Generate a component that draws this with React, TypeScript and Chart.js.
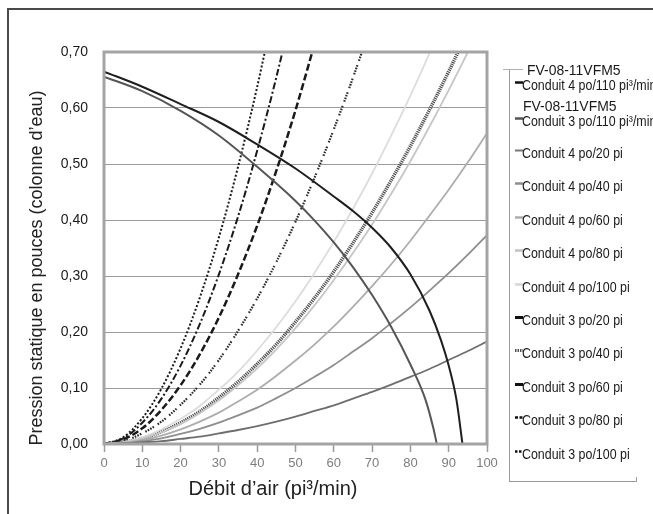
import React, { useEffect, useRef } from 'react';
import { Chart, registerables } from 'chart.js';

Chart.register(...registerables);

// ---- Tick labels ----
const X_TICKS = ['0', '10', '20', '30', '40', '50', '60', '70', '80', '90', '100'];
const Y_TICKS = ['0,00', '0,10', '0,20', '0,30', '0,40', '0,50', '0,60', '0,70'];

// ---- Fan curves (débit, pression) ----
const FAN4_X = [0, 10, 20, 30, 40, 50, 60, 65, 70, 75, 80, 85, 88, 90, 92, 93.6];
const FAN4_Y = [0.665, 0.638, 0.607, 0.575, 0.535, 0.492, 0.442, 0.416, 0.386, 0.35, 0.303, 0.238, 0.185, 0.14, 0.08, 0];
const FAN3_X = [0, 10, 20, 30, 40, 50, 55, 60, 65, 70, 75, 80, 84, 86, 86.9];
const FAN3_Y = [0.656, 0.63, 0.595, 0.551, 0.495, 0.434, 0.399, 0.36, 0.316, 0.266, 0.209, 0.142, 0.078, 0.028, 0];

// ---- System (duct) curves ----
const SYS_X = [0, 5, 10, 15, 20, 25, 30, 35, 40, 45, 50, 55, 60, 65, 70, 75, 80, 85, 90, 95, 100];
const D4_20 = [0, 0.001, 0.003, 0.005, 0.009, 0.013, 0.019, 0.025, 0.032, 0.04, 0.049, 0.059, 0.069, 0.081, 0.093, 0.106, 0.12, 0.134, 0.15, 0.166, 0.183];
const D4_40 = [0, 0.001, 0.005, 0.01, 0.018, 0.027, 0.038, 0.051, 0.065, 0.082, 0.1, 0.12, 0.141, 0.165, 0.189, 0.216, 0.244, 0.274, 0.305, 0.338, 0.373];
const D4_60 = [0, 0.002, 0.007, 0.015, 0.026, 0.04, 0.056, 0.076, 0.097, 0.122, 0.149, 0.178, 0.21, 0.245, 0.282, 0.321, 0.363, 0.408, 0.454, 0.503, 0.555];
const D4_80 = [0, 0.003, 0.01, 0.021, 0.036, 0.055, 0.078, 0.105, 0.135, 0.169, 0.207, 0.248, 0.293, 0.341, 0.392, 0.447, 0.505, 0.567, 0.632, 0.7, 0.772];
const D4_100 = [0, 0.003, 0.012, 0.026, 0.045, 0.068, 0.097, 0.129, 0.167, 0.209, 0.255, 0.306, 0.361, 0.42, 0.483, 0.551, 0.622, 0.698, 0.778];
const D3_20 = [0, 0.003, 0.01, 0.022, 0.038, 0.058, 0.083, 0.111, 0.143, 0.178, 0.218, 0.261, 0.308, 0.359, 0.413, 0.471, 0.532, 0.597, 0.665, 0.737];
const D3_40 = [0, 0.005, 0.019, 0.04, 0.07, 0.106, 0.15, 0.202, 0.26, 0.325, 0.397, 0.476, 0.562, 0.654, 0.753];
const D3_60 = [0, 0.008, 0.028, 0.061, 0.105, 0.16, 0.226, 0.303, 0.39, 0.488, 0.596, 0.715];
const D3_80 = [0, 0.01, 0.038, 0.081, 0.14, 0.214, 0.303, 0.406, 0.524, 0.655, 0.8];
const D3_100 = [0, 0.012, 0.046, 0.099, 0.171, 0.261, 0.369, 0.495, 0.638, 0.797];

const LEGEND_LABELS: string[][] = [
  ['FV-08-11VFM5', 'Conduit 4 po/110 pi³/min'],
  ['FV-08-11VFM5', 'Conduit 3 po/110 pi³/min'],
  ['Conduit 4 po/20 pi'],
  ['Conduit 4 po/40 pi'],
  ['Conduit 4 po/60 pi'],
  ['Conduit 4 po/80 pi'],
  ['Conduit 4 po/100 pi'],
  ['Conduit 3 po/20 pi'],
  ['Conduit 3 po/40 pi'],
  ['Conduit 3 po/60 pi'],
  ['Conduit 3 po/80 pi'],
  ['Conduit 3 po/100 pi'],
];

const X_TITLE = 'Débit d’air (pi³/min)';
const Y_TITLE = 'Pression statique en pouces (colonne d’eau)';

type Style = { color: string; width: number; dash: number[]; iconColor: string; iconWidth: number; iconDash: number[] };

const SERIES_DATA: [number[], number[]][] = [
  [FAN4_X, FAN4_Y],
  [FAN3_X, FAN3_Y],
  [SYS_X, D4_20],
  [SYS_X, D4_40],
  [SYS_X, D4_60],
  [SYS_X, D4_80],
  [SYS_X, D4_100],
  [SYS_X, D3_20],
  [SYS_X, D3_40],
  [SYS_X, D3_60],
  [SYS_X, D3_80],
  [SYS_X, D3_100],
];

const STYLES: Style[] = [
  { color: '#1e1e1e', width: 2, dash: [], iconColor: '#111', iconWidth: 2.5, iconDash: [] },
  { color: '#555555', width: 2, dash: [], iconColor: '#555', iconWidth: 2.5, iconDash: [] },
  { color: '#6e6e6e', width: 1.8, dash: [], iconColor: '#777', iconWidth: 2, iconDash: [] },
  { color: '#8e8e8e', width: 1.8, dash: [], iconColor: '#8e8e8e', iconWidth: 2.5, iconDash: [] },
  { color: '#adadad', width: 1.8, dash: [], iconColor: '#adadad', iconWidth: 2.5, iconDash: [] },
  { color: '#c6c6c6', width: 1.8, dash: [], iconColor: '#c2c2c2', iconWidth: 2.5, iconDash: [] },
  { color: '#dcdcdc', width: 1.8, dash: [], iconColor: '#d6d6d6', iconWidth: 2.5, iconDash: [] },
  { color: '#505050', width: 3.5, dash: [1.2, 0.9], iconColor: '#111', iconWidth: 3, iconDash: [] },
  { color: '#2a2a2a', width: 2.2, dash: [1.6, 1.2, 1.6, 1.2, 1.6, 1.2, 1.6, 4.5], iconColor: '#555', iconWidth: 3, iconDash: [1.5, 1] },
  { color: '#1a1a1a', width: 2.5, dash: [7, 3], iconColor: '#111', iconWidth: 3, iconDash: [] },
  { color: '#1a1a1a', width: 2, dash: [7, 2.5, 2, 2.5], iconColor: '#111', iconWidth: 2.5, iconDash: [3, 1.5] },
  { color: '#1a1a1a', width: 2, dash: [2, 2], iconColor: '#111', iconWidth: 2.5, iconDash: [2.5, 1.5] },
];

const FONT = '"Liberation Sans", Arial, sans-serif';

const framePlugin = {
  id: 'plotFrame',
  afterDatasetsDraw(chart: any) {
    const { ctx, chartArea: a } = chart;
    ctx.save();
    ctx.strokeStyle = '#a4a4a4';
    ctx.lineWidth = 3;
    ctx.strokeRect(a.left, a.top, a.right - a.left, a.bottom - a.top);
    ctx.restore();
  },
};

function LegendIcon({ s }: { s: Style }) {
  const dash = s.iconDash.length ? s.iconDash.join(' ') : undefined;
  return (
    <svg width={8} height={5} style={{ position: 'absolute', left: 0, top: 0 }}>
      <line x1={0} y1={2.5} x2={8} y2={2.5} stroke={s.iconColor} strokeWidth={s.iconWidth} strokeDasharray={dash} />
    </svg>
  );
}

export default function App() {
  const ref = useRef<HTMLCanvasElement | null>(null);

  useEffect(() => {
    if (!ref.current) return;
    const datasets = SERIES_DATA.map(([xs, ys], i) => ({
      label: LEGEND_LABELS[i].join(' '),
      data: xs.map((x, j) => ({ x, y: ys[j] })),
      borderColor: STYLES[i].color,
      borderWidth: STYLES[i].width,
      borderDash: STYLES[i].dash,
      pointRadius: 0,
      fill: false,
      cubicInterpolationMode: 'monotone' as const,
    }));
    const chart = new Chart(ref.current, {
      type: 'line',
      data: { datasets },
      options: {
        animation: false,
        responsive: true,
        maintainAspectRatio: false,
        layout: { padding: { left: 0, top: 52, right: 166, bottom: 0 } },
        plugins: { legend: { display: false }, tooltip: { enabled: false } },
        scales: {
          x: {
            type: 'linear',
            min: 0,
            max: 100,
            border: { display: false },
            grid: { drawOnChartArea: false, drawTicks: true, tickLength: 8, tickColor: '#9a9a9a', tickWidth: 1.5 },
            ticks: {
              stepSize: 10,
              padding: 4,
              color: '#7d7d7d',
              font: { family: FONT, size: 13 },
              maxRotation: 0,
              callback: (_v: any, i: number) => X_TICKS[i],
            },
            afterFit: (s: any) => { s.height = 70; },
          },
          y: {
            type: 'linear',
            min: 0,
            max: 0.7,
            border: { display: false },
            grid: { color: '#9a9a9a', lineWidth: 1, drawTicks: false },
            ticks: {
              stepSize: 0.1,
              padding: 16,
              color: '#1a1a1a',
              font: { family: FONT, size: 14 },
              callback: (_v: any, i: number) => Y_TICKS[i],
            },
            afterFit: (s: any) => { s.width = 104; },
          },
        },
      },
      plugins: [framePlugin],
    });
    return () => chart.destroy();
  }, []);

  const rowY = (i: number) => 154 + 33.4 * (i - 2);
  const centers = LEGEND_LABELS.map((_, i) => (i === 0 ? 86 : i === 1 ? 122 : rowY(i)));
  const narrow = { transform: 'scaleX(0.9)', transformOrigin: '0 50%' };

  return (
    <div style={{ position: 'absolute', left: 0, top: 0, width: 653, height: 514, overflow: 'hidden', background: '#fff' }}>
      <div style={{ position: 'absolute', left: 7, top: 8, width: 700, height: 600, border: '2px solid #4a4a4a', boxSizing: 'border-box' }} />
      <div style={{ position: 'absolute', left: 0, top: 0, width: 653, height: 514 }}>
        <canvas ref={ref} />
      </div>
      {/* axis titles */}
      <div style={{ position: 'absolute', left: 123, top: 478, width: 300, textAlign: 'center', fontFamily: FONT, fontSize: 20, lineHeight: '20px', color: '#222', whiteSpace: 'nowrap' }}>{X_TITLE}</div>
      <div style={{ position: 'absolute', left: 36 - 200, top: 268 - 10, width: 400, height: 20, textAlign: 'center', fontFamily: FONT, fontSize: 18, lineHeight: '20px', color: '#222', whiteSpace: 'nowrap', transform: 'rotate(-90deg)', transformOrigin: '50% 50%' }}>{Y_TITLE}</div>
      {/* legend box */}
      <div style={{ position: 'absolute', left: 509, top: 69, width: 1, height: 412, background: '#9a9a9a' }} />
      <div style={{ position: 'absolute', left: 503, top: 69, width: 20, height: 1, background: '#b0b0b0' }} />
      <div style={{ position: 'absolute', left: 509, top: 481, width: 128, height: 1, background: '#9a9a9a' }} />
      <div style={{ position: 'absolute', left: 636, top: 477, width: 1, height: 5, background: '#9a9a9a' }} />
      {LEGEND_LABELS.map((lines, i) => {
        const cy = centers[i];
        return (
          <div key={i}>
            {lines.length > 1 && (
              <div style={{ position: 'absolute', left: i === 0 ? 527 : 523, top: cy - 16 - 8, fontFamily: FONT, fontSize: 15.5, lineHeight: '16px', color: '#1a1a1a', whiteSpace: 'nowrap', ...narrow }}>{lines[0]}</div>
            )}
            <div style={{ position: 'absolute', left: 515, top: cy - 6 }}>
              <LegendIcon s={STYLES[i]} />
            </div>
            <div style={{ position: 'absolute', left: 522, top: cy - 8, fontFamily: FONT, fontSize: 13.8, lineHeight: '16px', color: '#1a1a1a', whiteSpace: 'nowrap', ...narrow }}>{lines[lines.length - 1]}</div>
          </div>
        );
      })}
    </div>
  );
}
